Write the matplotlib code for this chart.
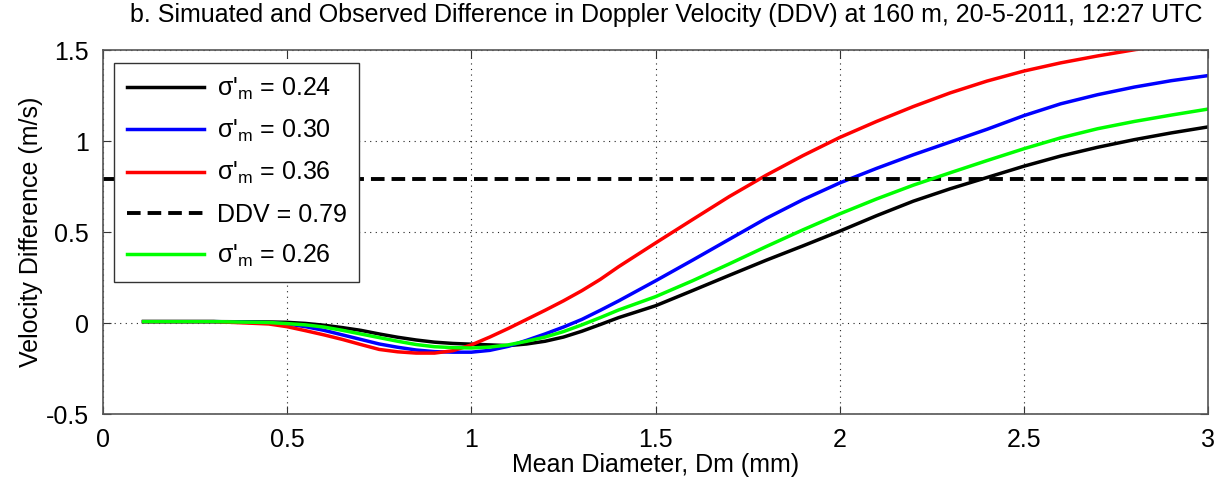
import matplotlib
matplotlib.use('Agg')
import matplotlib.pyplot as plt
import numpy as np

plt.rcParams['font.family'] = ['Liberation Sans', 'DejaVu Sans']
plt.rcParams['mathtext.fontset'] = 'custom'
plt.rcParams['mathtext.rm'] = 'Liberation Sans'
plt.rcParams['mathtext.it'] = 'Liberation Sans'

# mean diameter Dm (mm)
dm = [0.11, 0.3, 0.45, 0.5, 0.55, 0.6, 0.65, 0.7, 0.75, 0.8, 0.85, 0.9, 0.95,
      1.0, 1.05, 1.1, 1.15, 1.2, 1.25, 1.3, 1.35, 1.4, 1.5, 1.6, 1.7, 1.8,
      1.9, 2.0, 2.1, 2.2, 2.3, 2.4, 2.5, 2.6, 2.7, 2.8, 2.9, 3.0]

# simulated velocity difference (m/s) for each sigma'_m
s024 = [0.008, 0.008, 0.006, 0.004, -0.002, -0.012, -0.025, -0.04, -0.06, -0.078,
        -0.093, -0.105, -0.112, -0.116, -0.12, -0.124, -0.115, -0.1, -0.077, -0.045,
        -0.008, 0.03, 0.095, 0.178, 0.262, 0.345, 0.424, 0.505, 0.59, 0.67, 0.738,
        0.8, 0.862, 0.918, 0.966, 1.008, 1.045, 1.078]
s030 = [0.008, 0.008, 0.002, -0.005, -0.02, -0.04, -0.065, -0.09, -0.115, -0.133,
        -0.148, -0.157, -0.16, -0.16, -0.15, -0.128, -0.095, -0.06, -0.022, 0.02,
        0.07, 0.122, 0.232, 0.345, 0.46, 0.575, 0.678, 0.77, 0.85, 0.925, 0.995,
        1.065, 1.14, 1.205, 1.255, 1.297, 1.332, 1.36]
s036 = [0.008, 0.008, -0.005, -0.02, -0.042, -0.065, -0.09, -0.118, -0.145, -0.158,
        -0.165, -0.165, -0.152, -0.12, -0.077, -0.03, 0.02, 0.07, 0.122, 0.178,
        0.24, 0.31, 0.44, 0.568, 0.695, 0.812, 0.92, 1.02, 1.108, 1.19, 1.265,
        1.33, 1.385, 1.43, 1.468, 1.502, 1.535, 1.565]
s026 = [0.008, 0.008, 0.003, -0.003, -0.01, -0.022, -0.04, -0.06, -0.08, -0.1,
        -0.118, -0.13, -0.135, -0.137, -0.132, -0.12, -0.1, -0.077, -0.047, -0.01,
        0.03, 0.072, 0.145, 0.232, 0.325, 0.42, 0.512, 0.6, 0.682, 0.758, 0.826,
        0.893, 0.958, 1.018, 1.068, 1.108, 1.143, 1.176]
ddv = 0.79

fs = 18

fig = plt.figure(figsize=(12.19, 4.82), dpi=100)
ax = fig.add_axes([0.0845, 0.141, 0.9065, 0.755])

lw = 2.5
ax.plot(dm, s024, color='k', lw=lw, label="σ'$_{m}$ = 0.24")
ax.plot(dm, s030, color='b', lw=lw, label="σ'$_{m}$ = 0.30")
ax.plot(dm, s036, color='r', lw=lw, label="σ'$_{m}$ = 0.36")
ax.axhline(ddv, color='k', lw=lw + 0.3, ls=(0, (3.5, 1.8)), label='DDV = %.2f' % ddv)
ax.plot(dm, s026, color='#00ff00', lw=lw, label="σ'$_{m}$ = 0.26")

ax.set_xlim(0, 3)
ax.set_ylim(-0.5, 1.5)
ax.set_xticks(np.arange(0, 3.01, 0.5))
ax.set_yticks(np.arange(-0.5, 1.51, 0.5))
ax.set_xticklabels(['0', '0.5', '1', '1.5', '2', '2.5', '3'])
ax.set_yticklabels(['-0.5', '0', '0.5', '1', '1.5'])
ax.grid(True, ls=(0, (1, 4)), color='#222222', lw=0.8)
ax.tick_params(direction='in', top=True, right=True, length=6, labelsize=fs,
               color='#333333', pad=10)
for s in ax.spines.values():
    s.set_color('#555555')
    s.set_linewidth(1.2)

ax.set_xlabel('Mean Diameter, Dm (mm)', fontsize=fs, labelpad=1)
ax.set_ylabel('Velocity Difference (m/s)', fontsize=fs, labelpad=2)
ax.set_title('b. Simuated and Observed Difference in Doppler Velocity (DDV) at 160 m, 20-5-2011, 12:27 UTC',
             fontsize=fs, pad=20, x=0.51)

leg = ax.legend(loc='upper left', bbox_to_anchor=(0.01, 0.965), borderaxespad=0,
                fontsize=fs, handlelength=3.1, handletextpad=0.5, labelspacing=0.65,
                fancybox=False, framealpha=1, edgecolor='#333333', borderpad=0.5)
leg.get_frame().set_linewidth(1.0)

fig.savefig('out.png', dpi=100)
